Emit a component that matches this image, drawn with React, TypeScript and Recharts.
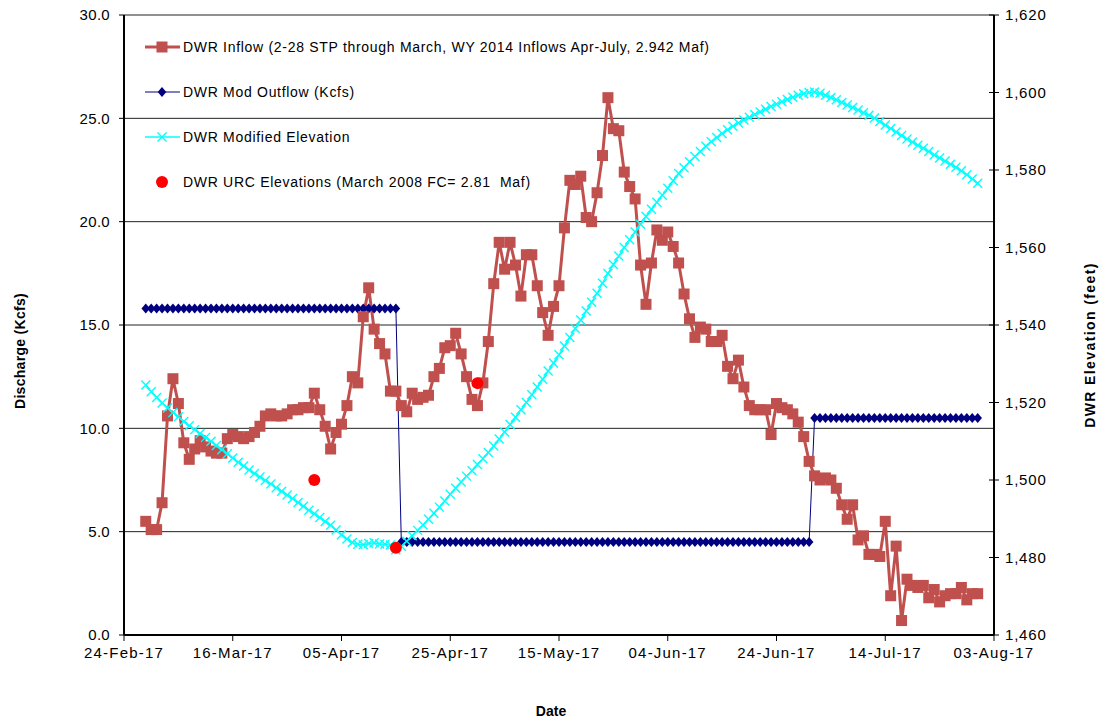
import React from 'react';
import { ComposedChart, Line, Scatter, XAxis, YAxis, CartesianGrid } from 'recharts';

// x positions are days counted from 24-Feb-17 (the first x tick)
const firstDay = 4; // first reading: 28-Feb-17
const xTicks = [0, 20, 40, 60, 80, 100, 120, 140, 160];
const xTickLabels = ['24-Feb-17', '16-Mar-17', '05-Apr-17', '25-Apr-17', '15-May-17', '04-Jun-17', '24-Jun-17', '14-Jul-17', '03-Aug-17'];
const leftTicks = [0, 5, 10, 15, 20, 25, 30];
const rightTicks = [1460, 1480, 1500, 1520, 1540, 1560, 1580, 1600, 1620];

// DWR Inflow (Kcfs), daily 28-Feb .. 31-Jul
const inflow = [
  5.5, 5.1, 5.1, 6.4, 10.6, 12.4, 11.2, 9.3, 8.5, 9.0,
  9.4, 9.1, 8.9, 8.8, 8.8, 9.5, 9.7, 9.6, 9.5, 9.6,
  9.8, 10.1, 10.6, 10.7, 10.6, 10.6, 10.7, 10.9, 10.9, 11.0,
  11.0, 11.7, 10.9, 10.1, 9.0, 9.8, 10.2, 11.1, 12.5, 12.2,
  15.4, 16.8, 14.8, 14.1, 13.6, 11.8, 11.8, 11.1, 10.8, 11.7,
  11.4, 11.5, 11.6, 12.5, 12.9, 13.9, 14.0, 14.6, 13.6, 12.5,
  11.4, 11.1, 12.2, 14.2, 17.0, 19.0, 17.7, 19.0, 17.9, 16.4,
  18.4, 18.4, 16.9, 15.6, 14.5, 15.9, 16.9, 19.7, 22.0, 21.8,
  22.2, 20.2, 20.0, 21.4, 23.2, 26.0, 24.5, 24.4, 22.4, 21.7,
  21.1, 17.9, 16.0, 18.0, 19.6, 19.1, 19.5, 18.8, 18.0, 16.5,
  15.3, 14.4, 14.9, 14.8, 14.2, 14.2, 14.5, 13.0, 12.4, 13.3,
  12.0, 11.1, 10.9, 10.9, 10.9, 9.7, 11.2, 11.0, 10.9, 10.7,
  10.3, 9.6, 8.4, 7.7, 7.5, 7.6, 7.5, 7.1, 6.3, 5.6,
  6.3, 4.6, 4.8, 3.9, 3.9, 3.8, 5.5, 1.9, 4.3, 0.7,
  2.7, 2.4, 2.3, 2.4, 1.8, 2.2, 1.6, 1.9, 2.0, 2.0,
  2.3, 1.7, 2.0, 2.0,
];

// DWR Mod Outflow (Kcfs), same days
const outflow = [
  15.8, 15.8, 15.8, 15.8, 15.8, 15.8, 15.8, 15.8, 15.8, 15.8,
  15.8, 15.8, 15.8, 15.8, 15.8, 15.8, 15.8, 15.8, 15.8, 15.8,
  15.8, 15.8, 15.8, 15.8, 15.8, 15.8, 15.8, 15.8, 15.8, 15.8,
  15.8, 15.8, 15.8, 15.8, 15.8, 15.8, 15.8, 15.8, 15.8, 15.8,
  15.8, 15.8, 15.8, 15.8, 15.8, 15.8, 15.8,
  4.5, 4.5, 4.5, 4.5, 4.5, 4.5, 4.5, 4.5, 4.5, 4.5,
  4.5, 4.5, 4.5, 4.5, 4.5, 4.5, 4.5, 4.5, 4.5, 4.5,
  4.5, 4.5, 4.5, 4.5, 4.5, 4.5, 4.5, 4.5, 4.5, 4.5,
  4.5, 4.5, 4.5, 4.5, 4.5, 4.5, 4.5, 4.5, 4.5, 4.5,
  4.5, 4.5, 4.5, 4.5, 4.5, 4.5, 4.5, 4.5, 4.5, 4.5,
  4.5, 4.5, 4.5, 4.5, 4.5, 4.5, 4.5, 4.5, 4.5, 4.5,
  4.5, 4.5, 4.5, 4.5, 4.5, 4.5, 4.5, 4.5, 4.5, 4.5,
  4.5, 4.5, 4.5, 4.5, 4.5, 4.5,
  10.5, 10.5, 10.5, 10.5, 10.5, 10.5, 10.5, 10.5, 10.5, 10.5,
  10.5, 10.5, 10.5, 10.5, 10.5, 10.5, 10.5, 10.5, 10.5, 10.5,
  10.5, 10.5, 10.5, 10.5, 10.5, 10.5, 10.5, 10.5, 10.5, 10.5,
  10.5,
];

// DWR Modified Elevation (feet), same days
const elevation = [
  1524.5, 1522.8, 1521.3, 1519.9, 1518.6, 1517.4, 1516.3, 1515.1, 1514.0, 1513.0,
  1512.0, 1511.0, 1510.0, 1508.9, 1507.8, 1506.8, 1505.7, 1504.6, 1503.6, 1502.6,
  1501.7, 1500.8, 1499.9, 1499.0, 1498.0, 1497.1, 1496.1, 1495.2, 1494.2, 1493.2,
  1492.2, 1491.3, 1490.3, 1489.3, 1488.3, 1487.1, 1485.9, 1484.8, 1483.9, 1483.4,
  1483.3, 1483.6, 1483.8, 1483.5, 1483.4, 1483.2, 1482.0, 1482.9, 1484.2, 1485.6,
  1487.0, 1488.4, 1489.9, 1491.4, 1493.0, 1494.6, 1496.3, 1497.9, 1499.5, 1501.0,
  1502.4, 1504.0, 1505.5, 1507.1, 1508.8, 1510.6, 1512.4, 1514.3, 1516.2, 1518.1,
  1520.0, 1522.0, 1524.0, 1526.0, 1528.1, 1530.2, 1532.3, 1534.6, 1536.8, 1539.1,
  1541.3, 1543.6, 1545.9, 1548.2, 1550.8, 1553.3, 1555.6, 1557.8, 1560.0, 1562.0,
  1564.0, 1566.0, 1568.0, 1569.9, 1571.7, 1573.5, 1575.3, 1577.2, 1579.1, 1580.6,
  1582.1, 1583.5, 1584.8, 1586.1, 1587.3, 1588.4, 1589.4, 1590.4, 1591.3, 1592.1,
  1592.9, 1593.6, 1594.3, 1595.0, 1595.7, 1596.4, 1597.0, 1597.6, 1598.2, 1598.8,
  1599.3, 1599.7, 1600.0, 1600.1, 1599.8, 1599.3, 1598.7, 1598.1, 1597.4, 1596.8,
  1596.1, 1595.5, 1594.8, 1594.1, 1593.4, 1592.5, 1591.6, 1590.7, 1589.8, 1588.9,
  1588.0, 1587.2, 1586.4, 1585.6, 1584.8, 1583.9, 1583.1, 1582.3, 1581.5, 1580.7,
  1579.8, 1578.8, 1577.7, 1576.6,
];

// DWR URC Elevations: 31-Mar, 15-Apr, 30-Apr
const urcDays = [35, 50, 65];
const urcElevation = [1500, 1482.5, 1525];

const legendLabels = [
  'DWR Inflow (2-28 STP through March, WY 2014 Inflows Apr-July, 2.942 Maf)',
  'DWR Mod Outflow (Kcfs)',
  'DWR Modified Elevation',
  'DWR URC Elevations (March 2008 FC= 2.81  Maf)',
];

const FONT = '"Liberation Sans", Arial, sans-serif';
const INFLOW = '#C0504D';
const OUTFLOW = '#000080';
const ELEV = '#00FFFF';

function SquareDot(props: any) {
  const { cx, cy, index } = props;
  if (cx == null || cy == null) return <g key={`sq-${index}`} />;
  return <rect key={`sq-${index}`} x={cx - 5.5} y={cy - 5.5} width={11} height={11} fill={INFLOW} />;
}

function DiamondDot(props: any) {
  const { cx, cy, index } = props;
  if (cx == null || cy == null) return <g key={`dm-${index}`} />;
  return (
    <polygon
      key={`dm-${index}`}
      points={`${cx},${cy - 5} ${cx + 4.3},${cy} ${cx},${cy + 5} ${cx - 4.3},${cy}`}
      fill={OUTFLOW}
    />
  );
}

function CrossDot(props: any) {
  const { cx, cy, index } = props;
  if (cx == null || cy == null) return <g key={`cx-${index}`} />;
  return (
    <path
      key={`cx-${index}`}
      d={`M${cx - 4.5},${cy - 4.5}L${cx + 4.5},${cy + 4.5}M${cx + 4.5},${cy - 4.5}L${cx - 4.5},${cy + 4.5}`}
      stroke={ELEV}
      strokeWidth={1.4}
      fill="none"
    />
  );
}

function RightTick(props: any) {
  const { x, y, payload } = props;
  return (
    <g>
      <line x1={x - 16} x2={x - 6} y1={y} y2={y} stroke="#000" strokeWidth={1} />
      <text x={x} y={y} dy="0.355em" textAnchor="start" fontSize={15} fontFamily={FONT} fill="#000" letterSpacing={0.8}>
        {Number(payload.value).toLocaleString('en-US')}
      </text>
    </g>
  );
}

function LegendIcon({ i }: { i: number }) {
  if (i === 0) {
    return (
      <svg width={40} height={18}>
        <line x1={2} x2={37} y1={9} y2={9} stroke={INFLOW} strokeWidth={3} />
        <rect x={13.5} y={3.5} width={11} height={11} fill={INFLOW} />
      </svg>
    );
  }
  if (i === 1) {
    return (
      <svg width={40} height={18}>
        <line x1={2} x2={37} y1={9} y2={9} stroke={OUTFLOW} strokeWidth={1} />
        <polygon points="19,4 23.3,9 19,14 14.7,9" fill={OUTFLOW} />
      </svg>
    );
  }
  if (i === 2) {
    return (
      <svg width={40} height={18}>
        <line x1={2} x2={37} y1={9} y2={9} stroke={ELEV} strokeWidth={1.4} />
        <path d="M14.5,4.5L23.5,13.5M23.5,4.5L14.5,13.5" stroke={ELEV} strokeWidth={1.4} />
      </svg>
    );
  }
  return (
    <svg width={40} height={18}>
      <circle cx={19} cy={9} r={6} fill="#FF0000" />
    </svg>
  );
}

export default function App() {
  const rows = inflow.map((v, i) => ({
    day: firstDay + i,
    inflow: v,
    outflow: outflow[i],
    elevation: elevation[i],
  }));
  const urc = urcDays.map((d, i) => ({ day: d, urc: urcElevation[i] }));

  return (
    <div style={{ position: 'absolute', left: 0, top: 0, width: 1101, height: 722, background: '#fff', fontFamily: FONT }}>
      <ComposedChart width={1101} height={722} data={rows} margin={{ top: 15, right: 0, bottom: 0, left: 0 }}>
        <CartesianGrid yAxisId="left" vertical={false} horizontal stroke="#222" strokeWidth={1} />
        <XAxis
          dataKey="day"
          type="number"
          domain={[0, 160]}
          ticks={xTicks}
          interval={0}
          height={87}
          tickFormatter={(v: number) => xTickLabels[xTicks.indexOf(v)]}
          tick={{ fontSize: 15, fill: '#000', fontFamily: FONT, letterSpacing: 1.2 }}
          tickSize={6}
          tickMargin={6}
          axisLine={{ stroke: '#000', strokeWidth: 2 }}
          tickLine={{ stroke: '#000' }}
        />
        <YAxis
          yAxisId="left"
          domain={[0, 30]}
          ticks={leftTicks}
          interval={0}
          width={124}
          tickFormatter={(v: number) => v.toFixed(1)}
          tick={{ fontSize: 15, fill: '#000', fontFamily: FONT, letterSpacing: 0.3 }}
          tickSize={5}
          tickMargin={9}
          axisLine={{ stroke: '#000', strokeWidth: 2 }}
          tickLine={{ stroke: '#000' }}
        />
        <YAxis
          yAxisId="right"
          orientation="right"
          domain={[1460, 1620]}
          ticks={rightTicks}
          interval={0}
          width={107}
          tick={<RightTick />}
          tickSize={5}
          tickMargin={6}
          axisLine={{ stroke: '#000', strokeWidth: 2 }}
          tickLine={false}
        />
        <Line
          yAxisId="left"
          dataKey="outflow"
          type="linear"
          stroke={OUTFLOW}
          strokeWidth={1}
          dot={DiamondDot}
          isAnimationActive={false}
        />
        <Line
          yAxisId="left"
          dataKey="inflow"
          type="linear"
          stroke={INFLOW}
          strokeWidth={3}
          dot={SquareDot}
          isAnimationActive={false}
        />
        <Line
          yAxisId="right"
          dataKey="elevation"
          type="linear"
          stroke={ELEV}
          strokeWidth={1.4}
          dot={CrossDot}
          isAnimationActive={false}
        />
        <Scatter
          yAxisId="right"
          data={urc}
          dataKey="urc"
          fill="#FF0000"
          shape={(p: any) => <circle cx={p.cx} cy={p.cy} r={6} fill="#FF0000" />}
          isAnimationActive={false}
        />
      </ComposedChart>

      {legendLabels.map((label, i) => (
        <div
          key={label}
          style={{
            position: 'absolute',
            left: 143,
            top: 38 + i * 45,
            height: 18,
            display: 'flex',
            alignItems: 'center',
            whiteSpace: 'pre',
            fontSize: 14,
            letterSpacing: 0.7,
            color: '#000',
          }}
        >
          <LegendIcon i={i} />
          <span>{label}</span>
        </div>
      ))}

      <div
        style={{
          position: 'absolute',
          left: 20,
          top: 351,
          transform: 'translate(-50%, -50%) rotate(-90deg)',
          whiteSpace: 'nowrap',
          fontWeight: 'bold',
          fontSize: 14,
          letterSpacing: 0.3,
        }}
      >
        Discharge (Kcfs)
      </div>
      <div
        style={{
          position: 'absolute',
          left: 1090,
          top: 345,
          transform: 'translate(-50%, -50%) rotate(-90deg)',
          whiteSpace: 'nowrap',
          fontWeight: 'bold',
          fontSize: 14,
          letterSpacing: 1.4,
        }}
      >
        DWR Elevation (feet)
      </div>
      <div
        style={{
          position: 'absolute',
          left: 551,
          top: 711,
          transform: 'translate(-50%, -50%)',
          whiteSpace: 'nowrap',
          fontWeight: 'bold',
          fontSize: 14,
        }}
      >
        Date
      </div>
    </div>
  );
}
